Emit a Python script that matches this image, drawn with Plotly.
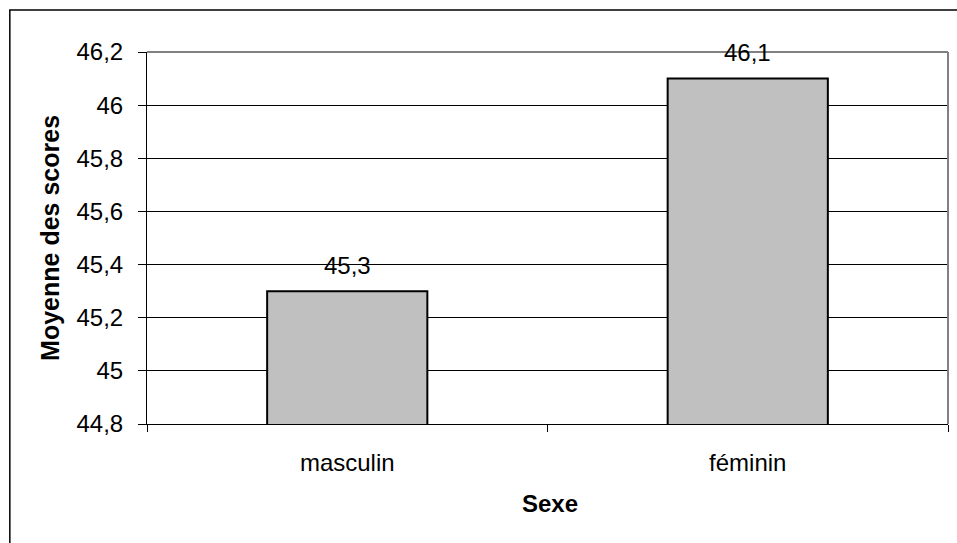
import plotly.graph_objects as go

# Moyenne des scores par sexe
categories = ["masculin", "féminin"]
scores = [45.3, 46.1]
y_ticks = [44.8, 45.0, 45.2, 45.4, 45.6, 45.8, 46.0, 46.2]


def fr(v):
    s = f"{v:.1f}".rstrip("0").rstrip(".")
    return s.replace(".", ",")


FONT = "Liberation Sans, Arial, sans-serif"

fig = go.Figure(
    go.Bar(
        x=categories,
        y=scores,
        width=0.4,
        marker=dict(color="#C0C0C0", line=dict(color="black", width=2)),
        showlegend=False,
        hoverinfo="skip",
    )
)

# valeurs au-dessus des barres
for c, v in zip(categories, scores):
    fig.add_annotation(
        x=c, y=v, text=fr(v), showarrow=False,
        yanchor="middle", yshift=26,
        font=dict(family=FONT, size=24, color="black"),
    )

# titres des axes
fig.add_annotation(
    xref="paper", yref="paper", x=0.5025, y=-79 / 372, text="<b>Sexe</b>",
    showarrow=False, yanchor="middle",
    font=dict(family=FONT, size=24, color="black"),
)
fig.add_annotation(
    xref="paper", yref="paper", x=-97 / 800, y=0.5, text="<b>Moyenne des scores</b>",
    showarrow=False, textangle=-90, xanchor="center", yanchor="middle",
    font=dict(family=FONT, size=25, color="black"),
)

# cadre extérieur
fig.add_shape(
    type="rect", xref="paper", yref="paper",
    x0=-137 / 800, x1=1 + 20 / 800, y0=-1.4, y1=1 + 42 / 372,
    line=dict(color="black", width=1.5), layer="below",
)

fig.update_layout(
    width=957, height=543,
    margin=dict(l=147, r=9, t=52, b=119),
    paper_bgcolor="white", plot_bgcolor="white",
    separators=", ",
    bargap=0.6,
    font=dict(family=FONT, size=24, color="black"),
    xaxis=dict(
        type="category",
        showline=True, linecolor="black", linewidth=1,
        ticks="outside", ticklen=7, tickcolor="black",
        tickson="boundaries",
        ticklabelstandoff=17,
        showgrid=False, mirror=False,
        tickfont=dict(family=FONT, size=24, color="black"),
    ),
    yaxis=dict(
        range=[44.8, 46.2],
        tickvals=y_ticks,
        ticktext=[fr(t) for t in y_ticks],
        showline=True, linecolor="black", linewidth=1,
        ticks="outside", ticklen=8, tickcolor="black",
        ticklabelstandoff=10,
        showgrid=True, gridcolor="black", gridwidth=1,
        zeroline=False,
        tickfont=dict(family=FONT, size=24, color="black"),
    ),
)

# bordure grise en haut et à droite de la zone de tracé
fig.add_shape(type="line", xref="paper", yref="paper", x0=0, x1=1, y0=1, y1=1,
              line=dict(color="#808080", width=2))
fig.add_shape(type="line", xref="paper", yref="paper", x0=1, x1=1, y0=0, y1=1,
              line=dict(color="#808080", width=2))

fig.write_html("out.html")
